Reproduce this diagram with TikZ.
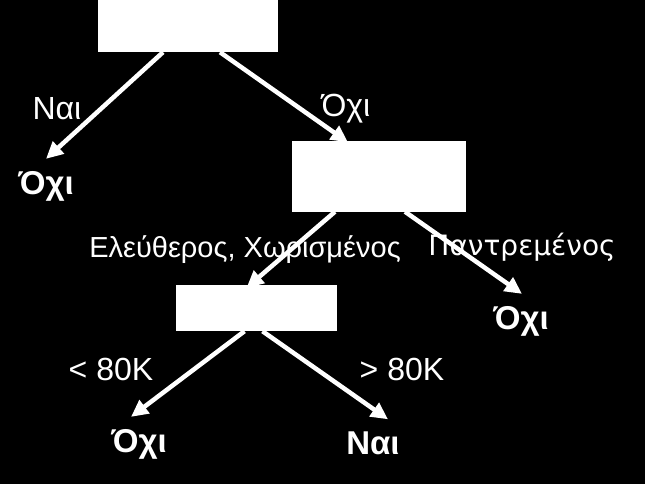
\documentclass[tikz,border=0pt]{standalone}
\usepackage{fontspec}
\setmainfont{Liberation Sans}
\newfontfamily\widesans{DejaVu Sans}
\usepackage{tikz}
\usetikzlibrary{arrows.meta, positioning, calc}

\begin{document}
\begin{tikzpicture}[x=1pt, y=-1pt,
    box/.style={fill=white, draw=none, minimum width=#1, inner sep=0pt},
    arr/.style={white, line width=4.5pt, -{Triangle[length=17pt, width=16pt]}},
    lbl/.style={white, font=\fontsize{32}{38}\selectfont, inner sep=0pt},
    sublbl/.style={white, font=\fontsize{29}{35}\selectfont, inner sep=0pt},
    leaf/.style={white, font=\fontsize{33}{40}\selectfont\bfseries, inner sep=0pt}]
    % Background
    \fill[black] (0,0) rectangle (645,484);
    \useasboundingbox (0,0) rectangle (645,484);

    % Test boxes (left empty)
    \node[box=180pt, minimum height=52pt] (root) at (188,26) {};
    \node[box=174pt, minimum height=70pt] (marital) at (379,176.5) {};
    \node[box=161pt, minimum height=46pt] (income) at (256.5,308) {};

    % Leaves
    \node[leaf] (noA) at (46,186) {Όχι};
    \node[leaf] (noB) at (521,321) {Όχι};
    \node[leaf] (noC) at (139,444) {Όχι};
    \node[leaf] (yesA) at (373,443) {Ναι};

    % Branch labels
    \node[lbl] (yesLbl) at (57,109) {Ναι};
    \node[lbl] (noLbl) at (346,109) {Όχι};
    \node[sublbl] (freeLbl) at (245,250) {Ελεύθερος, Χωρισμένος};
    \node[sublbl, font=\widesans\fontsize{28}{33}\selectfont] (marrLbl) at (522,247) {Παντρεμένος};
    \node[lbl] (lowLbl) at (111,369) {< 80K};
    \node[lbl] (highLbl) at (402,369) {> 80K};

    % Branches
    \draw[arr] ([xshift=-25pt]root.south) -- ([yshift=12pt]noA.north);
    \draw[arr] ([xshift=32pt]root.south) -- ([xshift=-31pt, yshift=-1pt]marital.north);
    \draw[arr] ([xshift=-44pt]marital.south) -- ([xshift=-10pt, yshift=-3pt]income.north);
    \draw[arr] ([xshift=26pt]marital.south) -- ([xshift=1pt, yshift=12pt]noB.north);
    \draw[arr] ([xshift=-12pt]income.south) -- ([xshift=-8pt, yshift=12pt]noC.north);
    \draw[arr] ([xshift=6pt]income.south) -- ([xshift=15pt, yshift=12pt]yesA.north);
\end{tikzpicture}
\end{document}
